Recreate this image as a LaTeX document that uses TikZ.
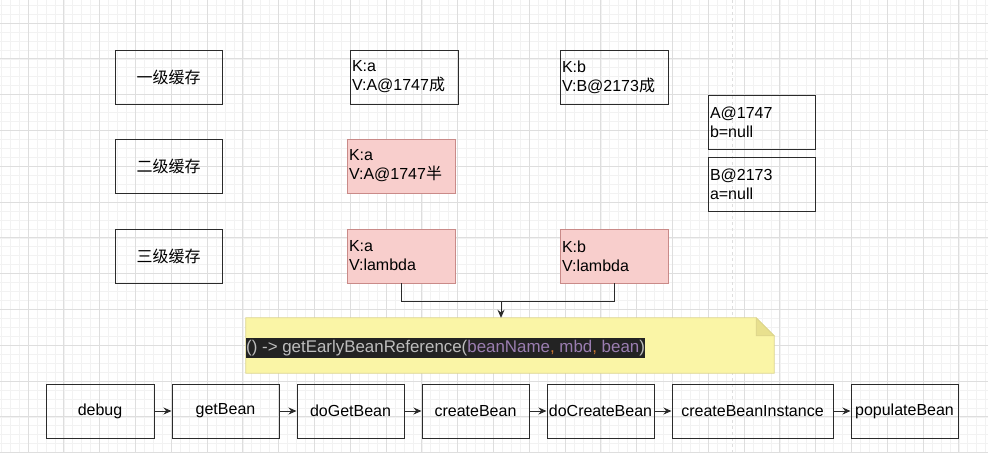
\documentclass[tikz,border=0pt]{standalone}
\usepackage{fontspec}
\setmainfont{Liberation Sans}
\newfontfamily\cjk{Noto Sans CJK SC}
\usetikzlibrary{arrows.meta}
\definecolor{gridminor}{HTML}{F2F2F2}
\definecolor{gridmajor}{HTML}{DEDEDE}
\definecolor{boxline}{HTML}{2B2B2B}
\definecolor{pinkfill}{HTML}{F8CECC}
\definecolor{pinkline}{HTML}{C98A88}
\definecolor{notefill}{HTML}{FAF5A6}
\definecolor{noteline}{HTML}{DCD58C}
\definecolor{notefold}{HTML}{E8E08E}
\definecolor{codebg}{HTML}{232323}
\definecolor{codegrey}{HTML}{BDBDBD}
\definecolor{codeparam}{HTML}{9A7DB0}
\definecolor{codecomma}{HTML}{CC7832}
\tikzset{
  every node/.style={font=\fontsize{16}{19}\selectfont},
  cachebox/.style={draw=boxline,line width=1pt,minimum width=107pt,minimum height=54pt,inner sep=0pt},
  kvbox/.style={draw=boxline,line width=1pt,minimum width=108pt,minimum height=54pt,text width=104pt,align=left,inner sep=2pt},
  halfbox/.style={kvbox,fill=pinkfill,draw=pinkline,line width=0.8pt},
  stepbox/.style={draw=boxline,line width=1pt,minimum width=107pt,minimum height=54pt,inner sep=0pt},
  flow/.style={-{Stealth[length=8pt,width=7pt]},line width=1pt,draw=boxline}
}
\begin{document}
\begin{tikzpicture}[x=1pt,y=-1pt]
\useasboundingbox (0,0) rectangle (988,453);
\fill[white] (0,0) rectangle (988,453);
\foreach \k in {0,...,110} \draw[gridminor,line width=0.6pt] ({1.15+\k*8.95},0) -- ({1.15+\k*8.95},453);
\foreach \k in {0,...,50} \draw[gridminor,line width=0.6pt] (0,{5.1+\k*8.95}) -- (988,{5.1+\k*8.95});
\foreach \k in {0,...,26} \draw[gridmajor,line width=0.8pt] ({28+\k*35.8},0) -- ({28+\k*35.8},453);
\foreach \k in {0,...,12} \draw[gridmajor,line width=0.8pt] (0,{23+\k*35.8}) -- (988,{23+\k*35.8});
\draw[gridmajor,dashed,line width=0.8pt] (732,0) -- (732,453);

% cache levels
\node[cachebox] (l1) at (168.5,77) {\cjk 一级缓存};
\node[cachebox] (l2) at (168.5,166) {\cjk 二级缓存};
\node[cachebox] (l3) at (168.5,256) {\cjk 三级缓存};

\node[kvbox] (a1) at (404,77) {K:a\\V:A@1747{\cjk 成}};
\node[halfbox] (a2) at (401,166) {K:a\\V:A@1747{\cjk 半}};
\node[halfbox] (a3) at (401,256) {K:a\\V:lambda};
\node[kvbox] (b1) at (614,77) {K:b\\V:B@2173{\cjk 成}};
\node[halfbox] (b3) at (614,256) {K:b\\V:lambda};

\node[kvbox,minimum width=107pt,text width=103pt] (objA) at (761.5,122) {A@1747\\b=null};
\node[kvbox,minimum width=107pt,text width=103pt] (objB) at (761.5,184) {B@2173\\a=null};

% note
\node[minimum width=528pt,minimum height=55pt,inner sep=0pt] (note) at (510,345.5) {};
\path[fill=notefill,draw=noteline,line width=0.8pt] (note.south west) -- (note.north west)
  -- ([xshift=-18pt]note.north east) -- ([yshift=-18pt]note.north east) -- (note.south east) -- cycle;
\path[fill=notefold,draw=noteline,line width=0.8pt] ([xshift=-18pt]note.north east) -- ([xshift=-18pt,yshift=-18pt]note.north east) -- ([yshift=-18pt]note.north east) -- cycle;
\node[fill=codebg,anchor=west,inner sep=0pt,minimum height=20pt,font=\fontsize{16.9}{19}\selectfont] (code) at (246,348)
  {{\color{codegrey}() -> getEarlyBeanReference(}{\color{codeparam}beanName}{\color{codecomma},} {\color{codeparam}mbd}{\color{codecomma},} {\color{codeparam}bean}{\color{codegrey})}};

\coordinate (join) at (501,301);
\draw[line width=1pt,boxline] (a3.south) -- (a3.south |- join) -| (b3.south);
\draw[flow] (join) -- (join |- note.north);

% call chain
\node[stepbox,minimum width=108pt] (debug) at (100,411) {debug};
\node[stepbox] (getBean) at (225.5,411) {getBean};
\node[stepbox] (doGetBean) at (350.5,411) {doGetBean};
\node[stepbox] (createBean) at (475.5,411) {createBean};
\node[stepbox] (doCreateBean) at (600.5,411) {doCreateBean};
\node[stepbox,minimum width=161pt] (createBeanInstance) at (752.5,411) {createBeanInstance};
\node[stepbox] (populateBean) at (904.5,411) {populateBean};
\foreach \s/\t in {debug/getBean,getBean/doGetBean,doGetBean/createBean,createBean/doCreateBean,doCreateBean/createBeanInstance,createBeanInstance/populateBean}
  \draw[flow] (\s) -- (\t);
\end{tikzpicture}
\end{document}
